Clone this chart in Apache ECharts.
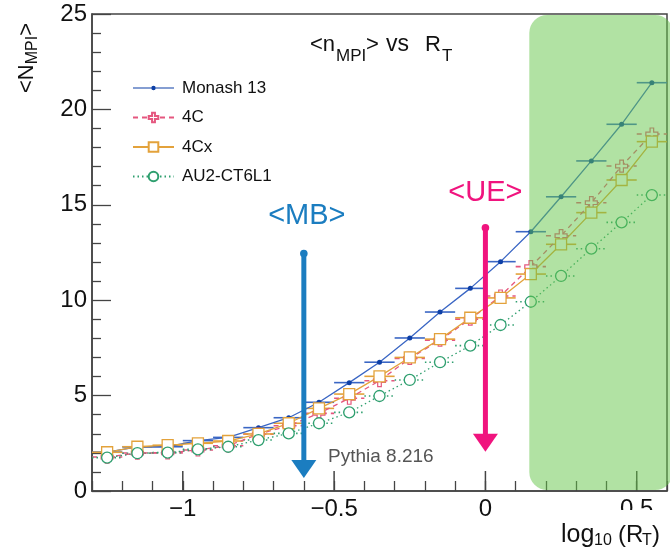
<!DOCTYPE html>
<html><head><meta charset="utf-8">
<script src="https://cdn.jsdelivr.net/npm/echarts@6/dist/echarts.min.js"></script>
<style>html,body{margin:0;padding:0;background:#fff}#c{width:670px;height:549px}</style>
</head><body><div id="c"></div>
<script>
// ---- data ----
const xCenters = [-1.25,-1.15,-1.05,-0.95,-0.85,-0.75,-0.65,-0.55,-0.45,-0.35,-0.25,-0.15,-0.05,0.05,0.15,0.25,0.35,0.45,0.55];
const binHalfWidth = 0.05;
const monash = [2.04,2.31,2.32,2.64,2.81,3.32,3.84,4.65,5.68,6.75,8.02,9.38,10.62,12.02,13.59,15.42,17.30,19.22,21.40];
const tune4C  = [1.78,1.99,2.00,2.15,2.37,2.98,3.42,4.07,4.86,5.78,6.95,7.91,9.01,10.22,11.76,13.38,15.11,17.03,18.71];
const tune4Cx = [2.03,2.32,2.40,2.50,2.62,2.99,3.55,4.33,5.08,6.01,7.00,7.96,9.08,10.12,11.37,12.93,14.59,16.30,18.31];
const au2     = [1.75,1.98,2.01,2.18,2.32,2.67,3.02,3.55,4.12,4.98,5.82,6.75,7.62,8.70,9.92,11.27,12.70,14.08,15.51];
const seriesNames = ['Monash 13','4C','4Cx','AU2-CT6L1'];
const xMajorTicks = [-1,-0.5,0,0.5];
// annotations
const arrowX = [-0.6, 0.0];
const arrowTop = [12.45, 13.8];
const arrowTip = [0.68, 2.06];
const arrowLabels = ['<MB>','<UE>'];
const arrowLabelX = [-0.59, 0.0];
const arrowLabelY = [14.4, 15.6];
const bandX = [0.145, 0.62];
const bandY = [0.05, 24.95];

const FONT = "'Liberation Sans', Arial, Helvetica, sans-serif";
const colors = {
  monashLine:'#3a66c4', monashDot:'#0d3fa6',
  c4:'#e5577f', c4x:'#e3a23b', au2:'#2f9f6f',
  mb:'#1b7dc0', ue:'#f0147e'
};
const arrowColors = [colors.mb, colors.ue];
const crossPath = 'path://M3.5,0 H6.5 V3.5 H10 V6.5 H6.5 V10 H3.5 V6.5 H0 V3.5 H3.5 Z';
const monashLegendIcon = 'path://M0,5.4 H41 V6.6 H0 Z M18.3,6 A2.2,2.2 0 1 1 22.7,6 A2.2,2.2 0 1 1 18.3,6 Z';

const zip = ys => xCenters.map((x,i)=>[x, ys[i]]);

// text with sub-scripts, built from pieces placed on a baseline
const mctx = document.createElement('canvas').getContext('2d');
function measure(t, size){ mctx.font = size + 'px ' + FONT; return mctx.measureText(t).width; }
function subText(x, y, rotation, pieces, color){
  // pieces: [text, fontSize, dx (or null = after previous), baselineShift]
  let cur = 0;
  const children = pieces.map(([t, size, dx, dy]) => {
    const px = (dx == null) ? cur : dx;
    cur = px + measure(t, size);
    return {type:'text', x:px, y:dy - 0.33*size, z:30,
      style:{text:t, fill:color, font:size + 'px ' + FONT, align:'left', verticalAlign:'middle'}};
  });
  return {type:'group', x:x, y:y, rotation:rotation, z:30, children};
}

function errSeries(name, ys, color, dash){
  return {
    type:'custom', name: name+' err', z:1, silent:true,
    data: zip(ys),
    renderItem(params, api){
      const x = api.value(0), y = api.value(1);
      const a = api.coord([x-binHalfWidth, y]), b = api.coord([x+binHalfWidth, y]);
      return {type:'line', shape:{x1:a[0],y1:a[1],x2:b[0],y2:b[1]},
        style:{stroke:color, lineWidth:1.6, lineDash: dash}};
    }
  };
}

const chart = echarts.init(document.getElementById('c'), null, {renderer:'canvas'});
const option = {
  animation:false,
  backgroundColor:'#fff',
  grid:{left:92, right:-2, top:14, bottom:58, show:true, borderColor:'#444', borderWidth:1.5, backgroundColor:'transparent'},
  xAxis:{
    type:'value', min:-1.3, max:0.6, interval:0.1,
    axisLine:{show:true, onZero:false, lineStyle:{color:'#444', width:1.5}},
    axisTick:{show:true, inside:true, length:10, lineStyle:{color:'#444', width:1.3}},
    splitLine:{show:false},
    axisLabel:{
      margin:6, color:'#111', fontFamily:FONT, fontSize:24,
      formatter: v => {
        const r = Math.round(v*10)/10;
        if (Math.abs(r*2 - Math.round(r*2)) > 1e-9) return '';
        if (r === 0) return '0';
        return r < 0 ? '\u2212' + Math.abs(r) : String(r);
      }
    }
  },
  yAxis:{
    type:'value', min:0, max:25, interval:5,
    axisLine:{show:true, onZero:false, lineStyle:{color:'#444', width:1.5}},
    axisTick:{show:true, inside:true, length:19, lineStyle:{color:'#444', width:1.3}},
    minorTick:{show:true, splitNumber:5, length:9, lineStyle:{color:'#444', width:1.3}},
    splitLine:{show:false},
    axisLabel:{margin:5, color:'#111', fontFamily:FONT, fontSize:24}
  },
  legend:{
    data: [{name:seriesNames[0], icon:monashLegendIcon}, seriesNames[1], seriesNames[2], seriesNames[3]],
    orient:'vertical', left:132, top:79.5, padding:0,
    itemWidth:41, itemHeight:12, itemGap:12.5,
    textStyle:{fontFamily:FONT, fontSize:17, color:'#111', padding:[0,0,0,3]},
    selectedMode:false
  },
  series:[
    errSeries('Monash 13', monash, colors.monashLine, null),
    errSeries('4C', tune4C, colors.c4, [5,4]),
    errSeries('4Cx', tune4Cx, colors.c4x, null),
    errSeries('AU2-CT6L1', au2, colors.au2, [1.5,3]),
    {type:'line', name:'Monash 13', data:zip(monash), z:3, symbol:'circle', symbolSize:5,
      lineStyle:{color:colors.monashLine, width:1.3}, itemStyle:{color:colors.monashDot}},
    {type:'line', name:'4C', data:zip(tune4C), z:3, symbol:crossPath, symbolSize:12,
      lineStyle:{color:colors.c4, width:1.3, type:[5,4]},
      itemStyle:{color:'#fff', borderColor:colors.c4, borderWidth:1.2}},
    {type:'line', name:'4Cx', data:zip(tune4Cx), z:3, symbol:'rect', symbolSize:11,
      lineStyle:{color:colors.c4x, width:1.3},
      itemStyle:{color:'#fff', borderColor:colors.c4x, borderWidth:1.3}},
    {type:'line', name:'AU2-CT6L1', data:zip(au2), z:3, symbol:'circle', symbolSize:11,
      lineStyle:{color:colors.au2, width:1.3, type:[1.5,3]},
      itemStyle:{color:'#fff', borderColor:colors.au2, borderWidth:1.3}},
    // major x ticks
    {type:'custom', name:'xmajor', z:4, silent:true, data: xMajorTicks.map(v=>[v,0]),
      renderItem(params, api){
        const p = api.coord([api.value(0), 0]);
        return {type:'line', shape:{x1:p[0], y1:p[1], x2:p[0], y2:p[1]-20},
          style:{stroke:'#444', lineWidth:1.5}};
      }},
    // green highlight band (drawn over the data, semi-transparent)
    {type:'custom', name:'band', z:10, silent:true, data:[[bandX[0], bandY[0], bandX[1], bandY[1]]],
      renderItem(params, api){
        const a = api.coord([api.value(0), api.value(3)]);
        const b = api.coord([api.value(2), api.value(1)]);
        return {type:'rect', shape:{x:a[0], y:a[1], width:b[0]-a[0], height:b[1]-a[1], r:18},
          style:{fill:'rgba(100,198,72,0.5)'}};
      }},
    // arrows
    {type:'custom', name:'arrows', z:11, silent:true,
      data: arrowX.map((x,i)=>[x, arrowTop[i], arrowTip[i], arrowLabelX[i], arrowLabelY[i]]),
      renderItem(params, api){
        const i = params.dataIndex, color = arrowColors[i];
        const pTop = api.coord([api.value(0), api.value(1)]);
        const pTip = api.coord([api.value(0), api.value(2)]);
        const pLab = api.coord([api.value(3), api.value(4)]);
        const headLen = 18, headW = 12.5;
        return {type:'group', children:[
          {type:'line', shape:{x1:pTop[0], y1:pTop[1], x2:pTip[0], y2:pTip[1]-headLen+2},
            style:{stroke:color, lineWidth:5}},
          {type:'circle', shape:{cx:pTop[0], cy:pTop[1], r:3.8}, style:{fill:color}},
          {type:'polygon', shape:{points:[[pTip[0]-headW, pTip[1]-headLen],[pTip[0]+headW, pTip[1]-headLen],[pTip[0], pTip[1]]]},
            style:{fill:color}},
          {type:'text', x:pLab[0], y:pLab[1], style:{text:arrowLabels[i], fill:color,
            font:'29px ' + FONT, align:'center', verticalAlign:'middle'}}
        ]};
      }}
  ],
  graphic:[
    // white patch that covers the lower part of the 0.5 label, as in the reference
    {type:'rect', z:19, shape:{x:612, y:510, width:60, height:40}, style:{fill:'#fff'}},
    // title  <n_MPI> vs R_T
    subText(310, 52, 0, [['<n',22,0,0], ['MPI',17,26,9.5], ['>',22,56,0], ['vs',23,76,0], ['R',22,115,0], ['T',17,132,9.5]], '#111'),
    // y title <N_MPI>, rotated
    subText(34, 93, Math.PI/2, [['<N',22,0,0], ['MPI',16,null,4.3], ['>',22,null,0]], '#111'),
    // x title log10 (R_T)
    subText(561, 543, 0, [['log',25,0,0], ['10',16,33,3], ['(R',24,57,0], ['T',16,81,3], [')',24,91,0]], '#111'),
    {type:'text', x:328, y:457, z:30,
      style:{text:'Pythia 8.216', align:'left', verticalAlign:'middle', fill:'#555',
        font:'19px ' + FONT}}
  ]
};
chart.setOption(option);
</script></body></html>
